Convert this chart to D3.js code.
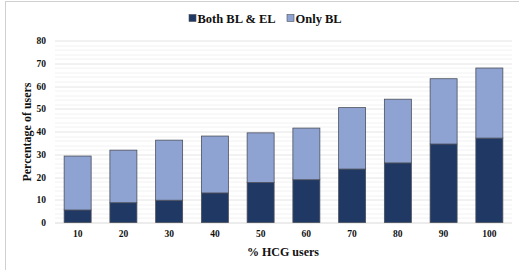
<!DOCTYPE html>
<html>
<head>
<meta charset="utf-8">
<script src="https://cdn.jsdelivr.net/npm/d3@7"></script>
<style>
  body { margin: 0; background: #fff; }
  text { font-family: 'Liberation Serif', 'Times New Roman', serif; font-weight: bold; fill: #111; }
</style>
</head>
<body>
<div id="chart"></div>
<script>
// % HCG users
const categories = ['10', '20', '30', '40', '50', '60', '70', '80', '90', '100']
// Both BL & EL
const bothValues = [5.5, 8.7, 9.8, 13.0, 17.6, 18.8, 23.5, 26.2, 34.5, 37.1]
// Only BL (stacked on top)
const onlyValues = [23.7, 23.1, 26.4, 25.0, 21.8, 22.7, 27.0, 28.0, 28.7, 30.8]
const seriesNames = ['Both BL & EL', 'Only BL']
const yTicks = [0, 10, 20, 30, 40, 50, 60, 70, 80]

const W = 519
const H = 270
const margin = { top: 40.5, right: 7, bottom: 47.5, left: 55 }
const width = W - margin.left - margin.right
const height = H - margin.top - margin.bottom

const colors = ['#203864', '#8fa3d3']

const svgRoot = d3
  .select('#chart')
  .append('svg')
  .attr('width', W)
  .attr('height', H)

// chart frame (only left and top edges are in view)
svgRoot.append('line')
  .attr('x1', 5.5).attr('x2', 5.5).attr('y1', 1).attr('y2', H)
  .attr('stroke', '#d0d0d0')
svgRoot.append('line')
  .attr('x1', 5.5).attr('x2', W).attr('y1', 1.5).attr('y2', 1.5)
  .attr('stroke', '#d0d0d0')

const svg = svgRoot
  .append('g')
  .attr('transform', 'translate(' + margin.left + ',' + margin.top + ')')

const xPositionScale = d3
  .scaleBand()
  .domain(categories)
  .range([0, width])
  .paddingInner(0.41)
  .paddingOuter(0.2)

const yPositionScale = d3
  .scaleLinear()
  .domain([0, 80])
  .range([height, 0])

// minor gridlines every 2
const minorTicks = d3.range(0, 81, 2).filter(d => d % 10 !== 0)
svg.selectAll('.minor-grid')
  .data(minorTicks)
  .enter()
  .append('line')
  .attr('class', 'minor-grid')
  .attr('x1', 0)
  .attr('x2', width)
  .attr('y1', d => Math.round(yPositionScale(d)) + 0.5)
  .attr('y2', d => Math.round(yPositionScale(d)) + 0.5)
  .attr('stroke', '#f2f2f2')

// major gridlines
svg.selectAll('.major-grid')
  .data(yTicks)
  .enter()
  .append('line')
  .attr('class', 'major-grid')
  .attr('x1', 0)
  .attr('x2', width)
  .attr('y1', d => Math.round(yPositionScale(d)) + 0.5)
  .attr('y2', d => Math.round(yPositionScale(d)) + 0.5)
  .attr('stroke', d => d === 0 ? '#d9d9d9' : '#e4e4e4')

const rows = categories.map((c, i) => ({ cat: c, both: bothValues[i], only: onlyValues[i] }))
const stacked = d3.stack().keys(['both', 'only'])(rows)

svg.selectAll('.series')
  .data(stacked)
  .enter()
  .append('g')
  .attr('class', 'series')
  .attr('fill', (d, i) => colors[i])
  .selectAll('rect')
  .data(d => d)
  .enter()
  .append('rect')
  .attr('x', d => xPositionScale(d.data.cat))
  .attr('y', d => yPositionScale(d[1]))
  .attr('width', xPositionScale.bandwidth())
  .attr('height', d => yPositionScale(d[0]) - yPositionScale(d[1]))
  .attr('stroke', '#4a4f5a')
  .attr('stroke-width', 0.8)

// y axis labels
const yAxis = d3.axisLeft(yPositionScale).tickValues(yTicks).tickSize(0).tickPadding(9)
svg.append('g')
  .attr('class', 'axis y-axis')
  .call(yAxis)
  .call(g => g.select('.domain').remove())
  .selectAll('text')
  .style('font-family', "'Liberation Serif', serif")
  .style('font-weight', 'bold')
  .style('font-size', '9.5px')
  .attr('fill', '#111')

// x axis labels
const xAxis = d3.axisBottom(xPositionScale).tickSize(0).tickPadding(8)
svg.append('g')
  .attr('class', 'axis x-axis')
  .attr('transform', 'translate(0,' + height + ')')
  .call(xAxis)
  .call(g => g.select('.domain').remove())
  .selectAll('text')
  .style('font-family', "'Liberation Serif', serif")
  .style('font-weight', 'bold')
  .style('font-size', '9.5px')
  .attr('fill', '#111')

// axis titles
svgRoot.append('text')
  .attr('x', 283)
  .attr('y', 256)
  .attr('text-anchor', 'middle')
  .attr('font-size', '12px')
  .text('% HCG users')

svgRoot.append('text')
  .attr('transform', 'translate(30.5,132) rotate(-90)')
  .attr('text-anchor', 'middle')
  .attr('font-size', '12px')
  .text('Percentage of users')

// legend
const legend = svgRoot.append('g').attr('transform', 'translate(189,18)')
const legendX = [0, 98]
seriesNames.forEach((name, i) => {
  legend.append('rect')
    .attr('x', legendX[i])
    .attr('y', -3.5)
    .attr('width', 7)
    .attr('height', 7)
    .attr('fill', colors[i])
    .attr('stroke', '#4a4f5a')
    .attr('stroke-width', 0.6)
  legend.append('text')
    .attr('x', legendX[i] + 8.5)
    .attr('y', 4.5)
    .attr('font-size', '12.5px')
    .text(name)
})
</script>
</body>
</html>
